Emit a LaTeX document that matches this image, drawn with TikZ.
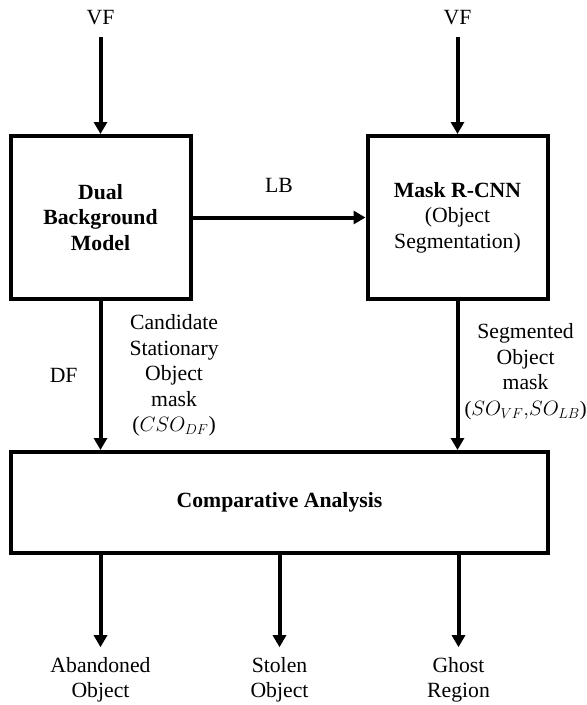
\documentclass[tikz,border=0pt]{standalone}
\usepackage{fontspec}
\setmainfont{Liberation Serif}
\usetikzlibrary{positioning,arrows.meta}

\begin{document}
\begin{tikzpicture}[
    x=1pt, y=1pt,
    font=\fontsize{21.7}{25.5}\selectfont,
    box/.style={rectangle, draw, line width=4pt, minimum width=180pt,
                minimum height=163pt, align=center},
    lbl/.style={align=center, inner sep=2pt},
    arrow/.style={-{Triangle[length=12pt,width=13pt]}, line width=4pt}
]
\useasboundingbox (0,0) rectangle (587,-705);
\node[box] (dbm) at (100.5,-217.5) {\textbf{Dual}\\\textbf{Background}\\\textbf{Model}};
\node[box, right=173pt of dbm] (mrcnn) {\textbf{Mask R-CNN}\\(Object\\Segmentation)};
\node[box, minimum width=537pt, minimum height=101pt] (cmp) at (279.5,-502.5) {\textbf{Comparative Analysis}};
\node[lbl] (vfa) at (100.5,-18) {VF};
\node[lbl] (vfb) at (457.5,-18) {VF};
\node[lbl] (abd) at (100.5,-680) {Abandoned\\Object};
\node[lbl] (stl) at (279.5,-680) {Stolen\\Object};
\node[lbl] (gst) at (458.5,-680) {Ghost\\Region};
\draw[arrow, shorten <=10pt] (vfa) -- (dbm);
\draw[arrow, shorten <=10pt] (vfb) -- (mrcnn);
\draw[arrow] (dbm) -- node[lbl, above=21pt] (lb) {LB} (mrcnn);
\draw[arrow] (dbm) -- (dbm |- cmp.north)
    node[midway, lbl, left=19pt] (df) {DF}
    node[midway, lbl, right=25pt] (cso) {Candidate\\Stationary\\Object\\mask\\($CSO_{DF}$)};
\draw[arrow] (mrcnn) -- (mrcnn |- cmp.north)
    node[midway, lbl, right=3pt, yshift=4pt] (so) {Segmented\\Object\\mask\\{\fontsize{20.5}{25.5}\selectfont($SO_{VF}{,}SO_{LB}$)}};
\draw[arrow, shorten >=8pt] (cmp.south -| abd) -- (abd);
\draw[arrow, shorten >=8pt] (cmp.south -| stl) -- (stl);
\draw[arrow, shorten >=8pt] (cmp.south -| gst) -- (gst);
\end{tikzpicture}
\end{document}
